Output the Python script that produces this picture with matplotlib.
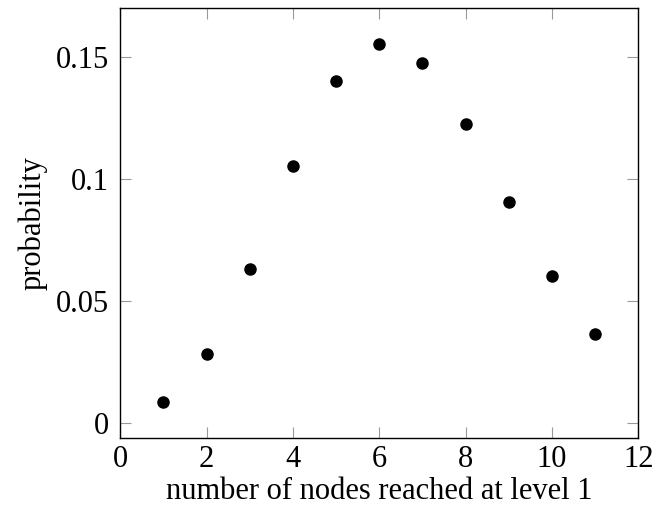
import matplotlib.pyplot as plt

# number of nodes reached at level 1 vs probability
nodes = [1, 2, 3, 4, 5, 6, 7, 8, 9, 10, 11]
prob = [0.0085, 0.0284, 0.0632, 0.1055, 0.1403, 0.1555, 0.1477, 0.1227, 0.0906, 0.0601, 0.0364]
x_ticks = [0, 2, 4, 6, 8, 10, 12]
y_ticks = [0, 0.05, 0.1, 0.15]
y_labels = ["0", "0.05", "0.1", "0.15"]

def main():
    plt.rcParams['font.family'] = ['Liberation Serif', 'DejaVu Serif']
    fig = plt.figure(figsize=(6.57, 5.19), dpi=100)
    ax = fig.add_axes([0.1831, 0.1555, 0.9715 - 0.1831, 0.9852 - 0.1555])
    ax.plot(nodes, prob, 'o', color='black', markersize=8, clip_on=False)
    ax.set_xlim(0, 12)
    ax.set_ylim(-0.0063, 0.1702)
    ax.set_xticks(x_ticks)
    ax.set_yticks(y_ticks)
    ax.set_yticklabels(y_labels)
    ax.tick_params(direction='in', length=8, width=0.8, color='#999999',
                   top=True, right=True, labelsize=22)
    ax.tick_params(axis='x', pad=5)
    ax.tick_params(axis='y', pad=8)
    for s in ax.spines.values():
        s.set_linewidth(1.0)
    ax.set_xlabel("number of nodes reached at level 1", fontsize=22, labelpad=2)
    ax.set_ylabel("probability", fontsize=22, labelpad=6)
    fig.savefig("out.png", dpi=100)

if __name__ == '__main__':
    main()
